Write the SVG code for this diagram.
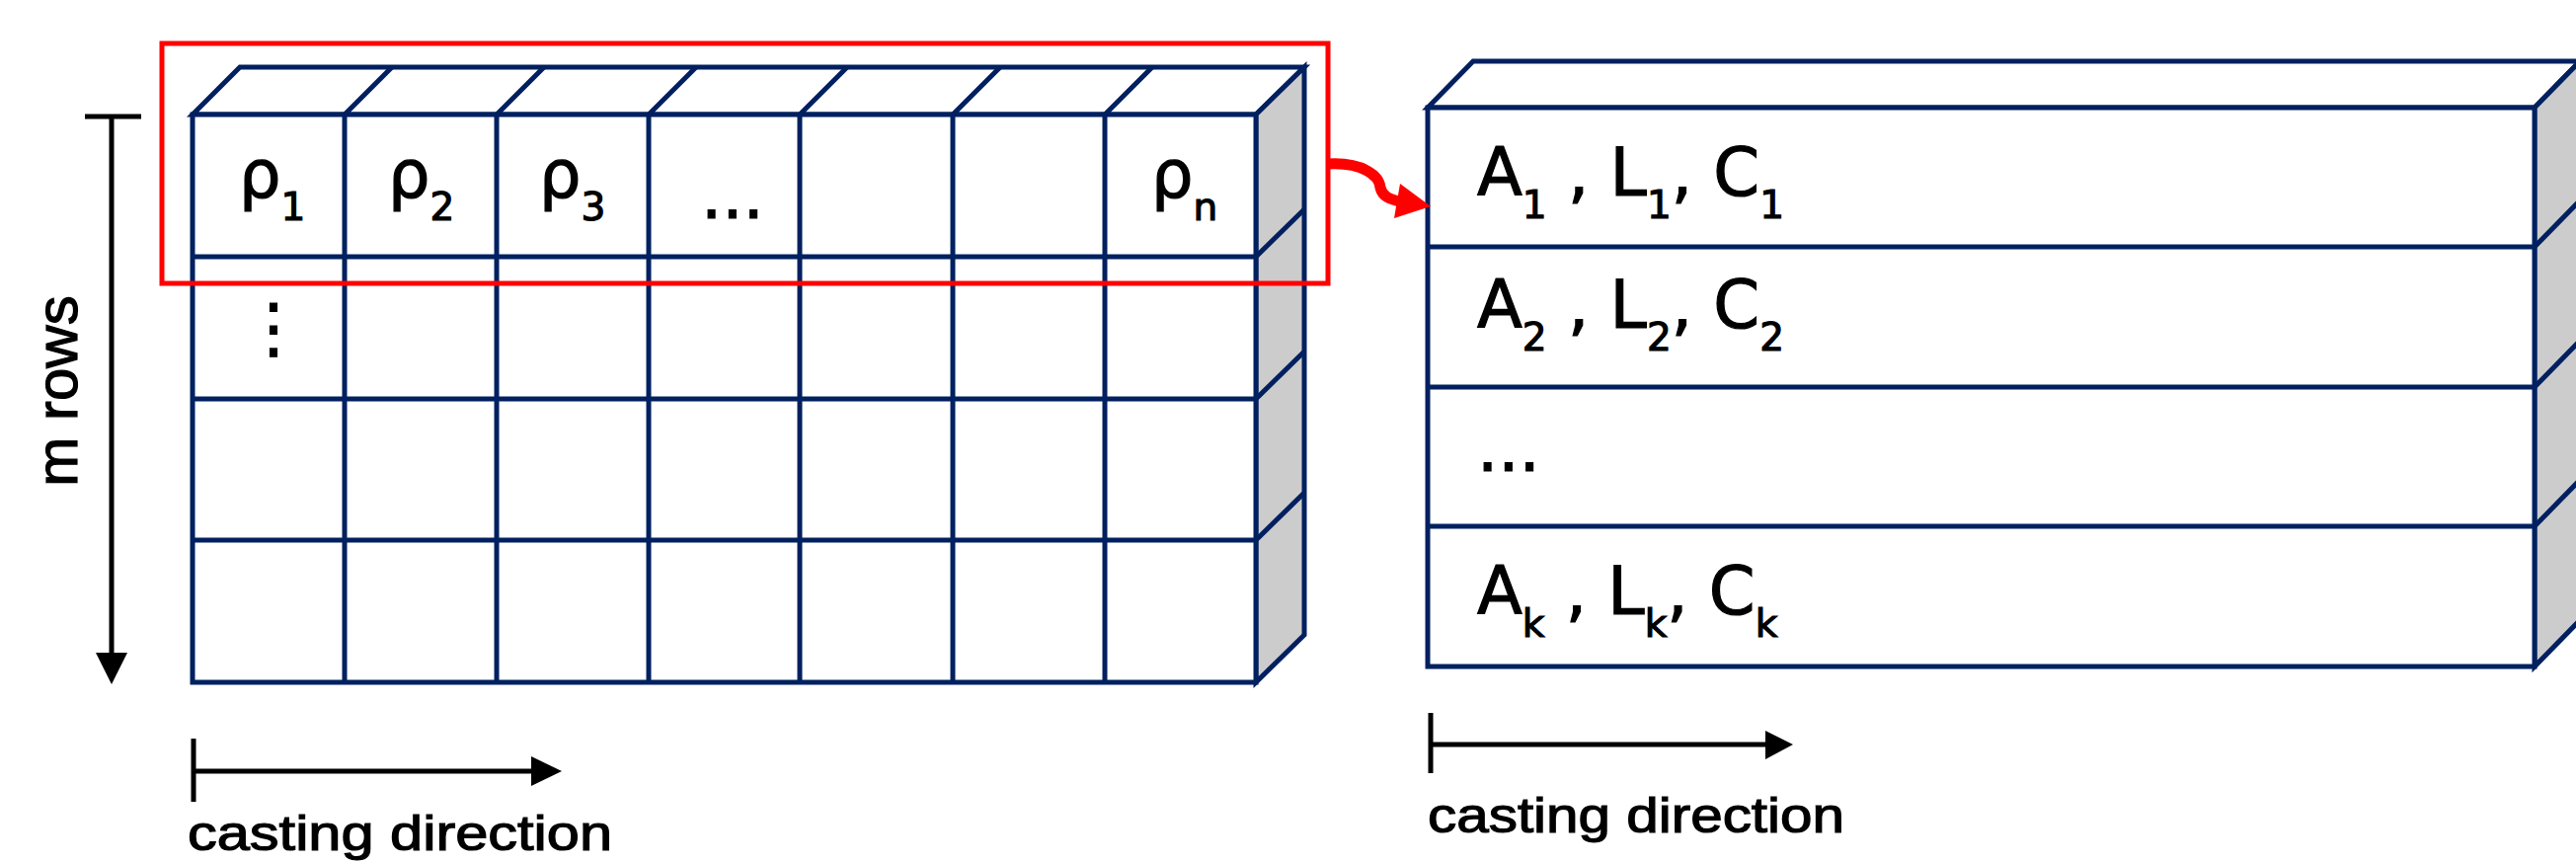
<svg xmlns="http://www.w3.org/2000/svg" width="2609" height="874" viewBox="0 0 2609 874">
<style>
.face{fill:#ffffff;stroke:#002060;stroke-width:5;stroke-linejoin:miter}
.side{fill:#cccccc;stroke:#002060;stroke-width:5;stroke-linejoin:miter}
.ln{fill:none;stroke:#002060;stroke-width:5}
.lbl{font-family:"DejaVu Sans",sans-serif;font-size:67px;fill:#000000;stroke:#000000;stroke-width:1.2px}
.sub{font-size:39px}
.cap{font-family:"Liberation Sans",Arial,sans-serif;fill:#000000;stroke:#000000;stroke-width:1.2px}
.blk{fill:none;stroke:#000000;stroke-width:5}
.head{fill:#000000}
</style>
<rect width="2609" height="874" fill="#ffffff"/>

<g id="grid-left">
  <polygon class="face" points="195,116 243,68 1321,68 1272,116"/>
  <polygon class="side" points="1272,116 1321,68 1321,643 1272,691"/>
  <rect class="face" x="195" y="116" width="1077" height="575"/>
  <path class="ln" d="M349,116V691M503,116V691M657,116V691M810,116V691M965,116V691M1119,116V691"/>
  <path class="ln" d="M349,116L397,68M503,116L551,68M657,116L705,68M810,116L858,68M965,116L1013,68M1119,116L1167,68"/>
  <path class="ln" d="M195,260H1272L1321,212M195,404H1272L1321,356M195,547H1272L1321,499"/>
</g>

<g id="labels-left">
  <text class="lbl" x="242" y="200">ρ<tspan class="sub" dy="23">1</tspan></text>
  <text class="lbl" x="393" y="200">ρ<tspan class="sub" dy="23">2</tspan></text>
  <text class="lbl" x="546" y="200">ρ<tspan class="sub" dy="23">3</tspan></text>
  <text class="lbl" x="710" y="221">...</text>
  <text class="lbl" x="1166" y="200">ρ<tspan class="sub" dy="23">n</tspan></text>
  <text class="lbl" x="277" y="355" text-anchor="middle" font-size="60">⋮</text>
</g>

<g id="selection">
  <rect x="164" y="44" width="1181" height="243" fill="none" stroke="#ff0000" stroke-width="5"/>
</g>

<g id="box-right">
  <polygon class="face" points="1446,109 1492,62 2613,62 2567,109"/>
  <polygon class="side" points="2567,109 2613,62 2613,628 2567,675"/>
  <rect class="face" x="1446" y="109" width="1121" height="566"/>
  <path class="ln" d="M1446,250H2567L2613,203M1446,392H2567L2613,345M1446,533H2567L2613,486"/>
</g>

<g id="labels-right">
  <text class="lbl" x="1496" y="198">A<tspan class="sub" dy="23">1</tspan><tspan dy="-23"> , L</tspan><tspan class="sub" dy="23">1</tspan><tspan dy="-23">, C</tspan><tspan class="sub" dy="23">1</tspan></text>
  <text class="lbl" x="1496" y="332">A<tspan class="sub" dy="23">2</tspan><tspan dy="-23"> , L</tspan><tspan class="sub" dy="23">2</tspan><tspan dy="-23">, C</tspan><tspan class="sub" dy="23">2</tspan></text>
  <text class="lbl" x="1496" y="477">...</text>
  <text class="lbl" x="1496" y="622">A<tspan class="sub" dy="23">k</tspan><tspan dy="-23"> , L</tspan><tspan class="sub" dy="23">k</tspan><tspan dy="-23">, C</tspan><tspan class="sub" dy="23">k</tspan></text>
</g>

<g id="connectors">
  <path d="M1345,166 C1380,164 1397,178 1398,190 C1400,199 1408,202 1418,204" fill="none" stroke="#ff0000" stroke-width="11"/>
  <polygon points="1449,209 1418,186 1412,221" fill="#ff0000"/>
  <path class="blk" d="M86,118H143M113,118V664"/>
  <polygon class="head" points="113,693 97,661 129,661"/>
  <path class="blk" d="M196,748V812M196,781H540"/>
  <polygon class="head" points="569,781 538,766 538,796"/>
  <path class="blk" d="M1449,722V783M1449,754H1790"/>
  <polygon class="head" points="1816,754 1788,740 1788,769"/>
</g>

<g id="axis-labels">
  <text class="cap" transform="translate(78,396) rotate(-90)" font-size="60" text-anchor="middle">m rows</text>
  <text class="cap" x="190" y="861" font-size="50" textLength="430" lengthAdjust="spacingAndGlyphs">casting direction</text>
  <text class="cap" x="1446" y="843" font-size="50" textLength="422" lengthAdjust="spacingAndGlyphs">casting direction</text>
</g>
</svg>
